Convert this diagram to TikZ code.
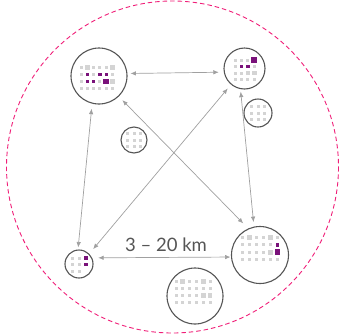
\documentclass[tikz,border=0pt]{standalone}
\usepackage{fontspec}
\setmainfont{Lato}
\usetikzlibrary{arrows.meta}
\definecolor{ringpink}{RGB}{240,30,120}
\definecolor{hubline}{RGB}{85,85,85}
\definecolor{arrgray}{RGB}{160,160,160}
\definecolor{sqgray}{RGB}{212,212,212}
\definecolor{sqpurple}{RGB}{122,18,122}
\definecolor{txtgray}{RGB}{85,85,85}
\newcommand\mycellg[2]{\fill[sqgray] (#1-1.5,#2-1.5) rectangle ++(3,3);}
\newcommand\mycellG[2]{\fill[sqgray] (#1-2.4,#2-2.4) rectangle ++(4.8,4.8);}
\newcommand\mycellp[2]{\fill[sqpurple] (#1-1.6,#2-1.6) rectangle ++(3.2,3.2);}
\newcommand\mycellP[2]{\fill[sqpurple] (#1-2.8,#2-2.8) rectangle ++(5.6,5.6);}
\newcommand\mycellx[2]{}
\newcommand\mygrid[5]{%
  \foreach \row [count=\r from 0] in {#5} {
    \foreach \c [count=\k from 0] in \row {
      \pgfmathsetmacro\xx{#1+\k*#3}
      \pgfmathsetmacro\yy{#2+\r*#4}
      \csname mycell\c\endcsname{\xx}{\yy}
    }
  }}
\begin{document}
\begin{tikzpicture}[x=1pt,y=-1pt,
  hub/.style={circle, draw=hubline, line width=1.1pt, inner sep=0pt},
  arr/.style={draw=arrgray, line width=0.7pt, {Latex[length=5.5pt,width=4.5pt]}-{Latex[length=5.5pt,width=4.5pt]}},
  lbl/.style={text=txtgray, font=\fontsize{18.5}{22}\selectfont, inner sep=0pt}]
\useasboundingbox (0,0) rectangle (343,333);
% outer dashed ring
\draw[ringpink, line width=0.9pt, dash pattern=on 4.5pt off 3pt] (172.5,167) circle (166);
% hubs
\node[hub, minimum size=56pt] (tl) at (99,76) {};
\node[hub, minimum size=41pt] (tr) at (244.5,68.5) {};
\node[hub, minimum size=57pt] (br) at (260,255) {};
\node[hub, minimum size=28pt] (bl) at (79,264) {};
\node[hub, minimum size=56pt] (bm) at (195,296) {};
\node[hub, minimum size=26pt] (ml) at (134,140) {};
\node[hub, minimum size=28pt] (sr) at (258,113) {};
% grids
\mygrid{81}{67.5}{6.3}{7}{{g,G,g,g,g,G},{g,p,g,p,p,g},{g,p,p,g,P,G},{g,g,g,g,g,g}}
\mygrid{235.5}{60}{6.2}{6.5}{{g,g,g,P},{g,p,p,g},{g,g,G,G},{g,g,g,g}}
\mygrid{242.3}{237.7}{7}{7.2}{{g,G,g,g,G,g},{g,g,g,g,g,p},{g,g,g,g,G,P},{g,g,g,g,g,g}}
\mygrid{176}{281.7}{6.8}{6.8}{{g,G,g,g,G,g},{g,g,g,g,g,g},{g,g,g,g,G,G},{g,g,g,g,g,g}}
\mygrid{72.7}{258}{6.6}{6.6}{{g,g,p},{g,g,p},{g,g,x}}
\mygrid{127.5}{133.5}{6.5}{6.5}{{g,g,g},{g,g,g},{g,g,g}}
\mygrid{251.5}{106.5}{6.5}{6.5}{{g,g,g},{g,g,g},{g,g,g}}
% connectors
\draw[arr, shorten <=3pt, shorten >=5pt] (tl.5) -- (tr.190);
\draw[arr, shorten <=5pt, shorten >=2pt] (tl.256) -- (bl.94);
\draw[arr, shorten <=5pt, shorten >=7pt] (tl.314) -- (br.114);
\draw[arr, shorten <=5pt, shorten >=6pt] (tr.230) -- (bl.45);
\draw[arr, shorten <=2.5pt, shorten >=4.5pt] (tr.259) -- (br.102);
\draw[arr, shorten <=6pt, shorten >=0.5pt] (bl.25) -- (br.184);
% label
\node[lbl] (km) at (166,245) {3 \textendash{} 20 km};
\end{tikzpicture}
\end{document}
